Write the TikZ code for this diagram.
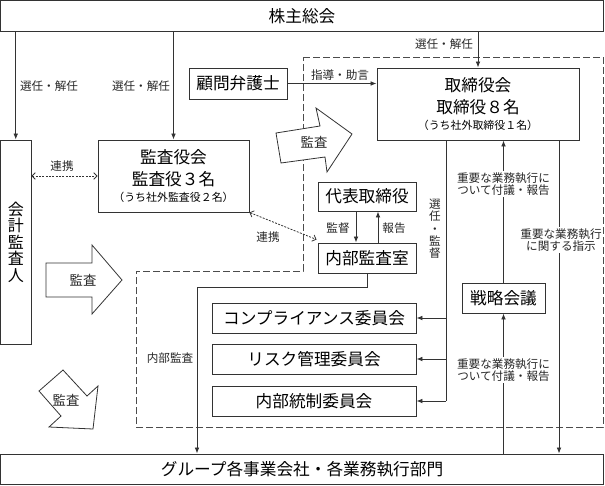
\documentclass[tikz,border=0pt]{standalone}
\usepackage{fontspec}
\setmainfont{Noto Sans CJK JP}
\usetikzlibrary{arrows.meta,calc}
\begin{document}
\begin{tikzpicture}[x=0.75pt,y=-0.75pt,
  box/.style={draw=black!80,line width=0.7pt,fill=white,inner sep=0pt,align=center,font=\fontsize{12.5}{15}\selectfont},
  lbl/.style={font=\fontsize{8.7}{9.2}\selectfont,inner sep=1pt,align=center,text=black!85},
  wlbl/.style={lbl,fill=white},
  arr/.style={draw=black!80,line width=0.6pt,-{Latex[length=4.5pt,width=3.5pt]}},
  dlink/.style={draw=black!80,line width=0.6pt,dash pattern=on 1.5pt off 1pt,{Straight Barb[length=2.5pt,width=5pt]}-{Straight Barb[length=2.5pt,width=5pt]}},
  bigarrow/.style={draw=black!80,line width=0.6pt,fill=white},
  region/.style={draw=black!70,line width=0.6pt,dash pattern=on 5pt off 2.5pt},
]
\useasboundingbox (0,0) rectangle (605,485);

% dashed region
\draw[region] (303,57) -- (603,57) -- (603,427) -- (136,427) -- (136,271) -- (303,271) -- cycle;

% boxes
\node[box,minimum width=452.25pt,minimum height=23.25pt] (kab) at (302,16) {株主総会};
\node[box,minimum width=22.9pt,minimum height=153pt,font=\fontsize{12}{12.4}\selectfont] (kai) at (15.75,242) {会\\計\\監\\査\\人};
\node[box,minimum width=113.25pt,minimum height=54pt] (kan) at (173.5,176) {監査役会\\[1pt]監査役３名\\[-3pt]{\fontsize{8.2}{10}\selectfont （うち社外監査役２名）}};
\node[box,minimum width=73.5pt,minimum height=23.25pt] (kom) at (238,83.5) {顧問弁護士};
\node[box,minimum width=151.5pt,minimum height=54pt] (tor) at (478,104) {取締役会\\[1pt]取締役８名\\[-3pt]{\fontsize{8.2}{10}\selectfont （うち社外取締役１名）}};
\node[box,minimum width=73.5pt,minimum height=21.75pt] (dai) at (367,196.5) {代表取締役};
\node[box,minimum width=73.5pt,minimum height=22.5pt] (nai) at (367,258) {内部監査室};
\node[box,minimum width=153pt,minimum height=22.5pt] (com) at (314,318) {コンプライアンス委員会};
\node[box,minimum width=153pt,minimum height=22.5pt] (ris) at (314,359) {リスク管理委員会};
\node[box,minimum width=153pt,minimum height=22.5pt] (nto) at (314,401) {内部統制委員会};
\node[box,minimum width=62.25pt,minimum height=22.5pt] (sen) at (503.5,298) {戦略会議};
\node[box,minimum width=452.25pt,minimum height=22.5pt] (grp) at (302,469) {グループ各事業会社・各業務執行部門};

% big arrows
\draw[bigarrow] (46,263) -- (92,263) -- (92,245) -- (122,280) -- (92,314) -- (92,297) -- (46,297) -- cycle;
\node[lbl,font=\fontsize{10}{12}\selectfont] (ka1) at (83,280) {監査};
\draw[bigarrow] (276,133) -- (320,126) -- (316,108) -- (352,134) -- (327,172) -- (325,157) -- (281,163) -- cycle;
\node[lbl,font=\fontsize{10}{12}\selectfont] (ka2) at (314,142) {監査};
\draw[bigarrow] (39,391) -- (63,370) -- (87,396) -- (98,386) -- (93,429) -- (49,427) -- (61,416) -- cycle;
\node[lbl,font=\fontsize{10}{12}\selectfont] (ka3) at (66,400) {監査};

% arrows from shareholders
\draw[arr] (kai.north |- kab.south) -- (kai.north);
\draw[arr] (kan.north |- kab.south) -- (kan.north);
\draw[arr] (tor.north |- kab.south) -- (tor.north);
\node[lbl] (l1) at (49,86) {選任・解任};
\node[lbl] (l2) at (141,86) {選任・解任};
\node[lbl] (l3) at (444,44) {選任・解任};

% advisor
\draw[arr] (kom.east) -- (kom.east -| tor.west);
\node[lbl] (l4) at (340,75) {指導・助言};

% links
\draw[dlink] (kan.west -| kai.east) -- (kan.west);
\node[lbl] (l5) at (62,166) {連携};
\coordinate (nainw) at ($(nai.north west)+(-1,-3)$);
\draw[dlink] (kan.south east) -- (nainw);
\node[lbl] (l6) at (268,237) {連携};

% supervision/report
\draw[arr] ($(dai.south)+(-11,0)$) -- ($(nai.north)+(-11,0)$);
\draw[arr] ($(nai.north)+(11,0)$) -- ($(dai.south)+(11,0)$);
\node[lbl] (l7) at (338,228) {監督};
\node[lbl] (l8) at (394,228) {報告};

% internal audit
\coordinate (ia) at (197,287);
\draw[arr] (nai.south) |- (ia) -- (ia |- grp.north);
\node[lbl] (l9) at (170,358) {内部監査};

% committees
\coordinate (sv) at (446,0);
\draw[draw=black!80,line width=0.6pt] (sv |- tor.south) -- (sv |- nto.east);
\draw[arr] (sv |- com.east) -- (com.east);
\draw[arr] (sv |- ris.east) -- (ris.east);
\draw[arr] (sv |- nto.east) -- (nto.east);
\node[lbl] (l10) at (435,229) {選\\任\\・\\監\\督};

% strategy meeting
\draw[arr] (sen.north) -- (sen.north |- tor.south);
\node[wlbl] (l11) at (503.5,184) {重要な業務執行に\\ついて付議・報告};
\draw[arr] (sen.south |- grp.north) -- (sen.south);
\node[wlbl] (l12) at (503.5,370) {重要な業務執行に\\ついて付議・報告};

% instruction
\coordinate (ix) at (559,0);
\draw[arr] (ix |- tor.south) -- (ix |- grp.north);
\node[wlbl] (l13) at (561,240) {重要な業務執行\\に関する指示};
\end{tikzpicture}
\end{document}
